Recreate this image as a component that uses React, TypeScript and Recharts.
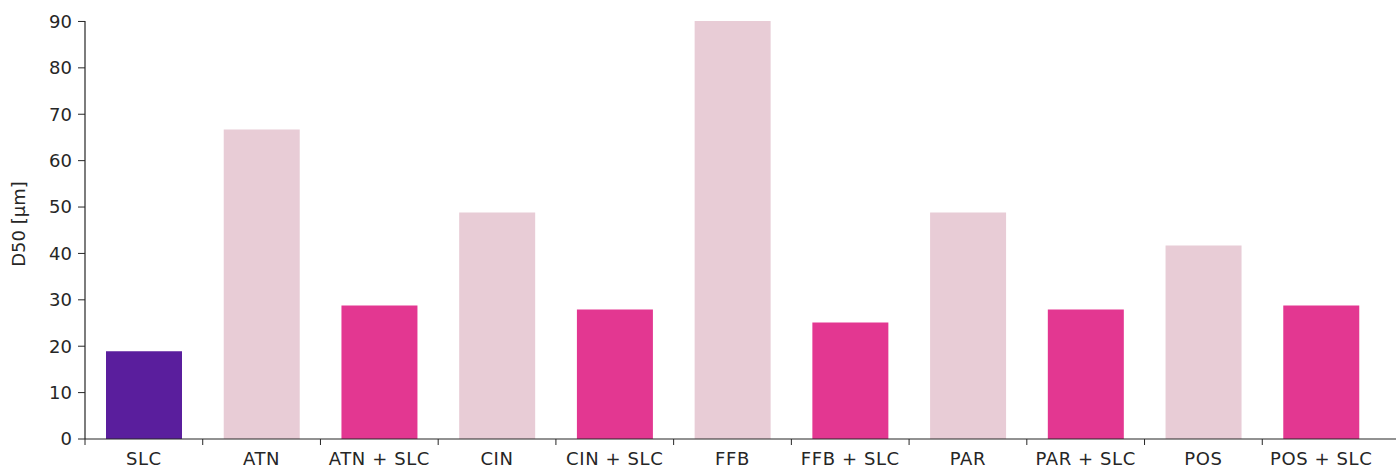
import { BarChart, Bar, XAxis, YAxis, Cell, Label } from "recharts";

const categories = [
  "SLC",
  "ATN",
  "ATN + SLC",
  "CIN",
  "CIN + SLC",
  "FFB",
  "FFB + SLC",
  "PAR",
  "PAR + SLC",
  "POS",
  "POS + SLC",
];
const d50Values = [18.9, 66.7, 28.8, 48.8, 27.9, 90.1, 25.1, 48.8, 27.9, 41.7, 28.8];
const yTicks = [0, 10, 20, 30, 40, 50, 60, 70, 80, 90];

const data = categories.map((name, i) => ({ name, d50: d50Values[i] }));

const FONT = "'DejaVu Sans', Verdana, sans-serif";
const INK = "#262626";
const CHART_W = 1396;
const CHART_H = 466;
const Y_AXIS_W = 85;
const X_PAD_RIGHT = 16;
const BAND = (CHART_W - Y_AXIS_W - X_PAD_RIGHT) / categories.length;

const colorFor = (name: string) => {
  if (name === "SLC") return "#5a1e9d";
  if (name.includes("+ SLC")) return "#e33791";
  return "#e8ccd6";
};

const XTick = (props: any) => {
  const { x, y, payload } = props;
  const left = x - BAND / 2;
  return (
    <g>
      <line x1={left} y1={y} x2={left} y2={y + 6} stroke={INK} strokeWidth={1} />
      <text
        x={x}
        y={y + 26}
        textAnchor="middle"
        fill={INK}
        fontSize={18}
        letterSpacing={0.6}
        fontFamily={FONT}
      >
        {payload.value}
      </text>
    </g>
  );
};

const YLabel = () => (
  <text
    x={18}
    y={224}
    transform="rotate(-90 18 224)"
    textAnchor="middle"
    dominantBaseline="central"
    fill={INK}
    fontSize={18}
    fontFamily={FONT}
  >
    D50 [µm]
  </text>
);

export default function App() {
  return (
    <div style={{ position: "absolute", left: 0, top: 0, background: "#fff" }}>
      <BarChart
        width={CHART_W}
        height={CHART_H}
        data={data}
        margin={{ top: 21, right: 0, bottom: 0, left: 0 }}
        barCategoryGap={0}
      >
        <XAxis
          dataKey="name"
          height={27}
          padding={{ left: 0, right: X_PAD_RIGHT }}
          tickLine={false}
          tickSize={0}
          tickMargin={0}
          interval={0}
          axisLine={{ stroke: INK, strokeWidth: 1.2 }}
          tick={<XTick />}
        />
        <YAxis
          width={Y_AXIS_W}
          domain={[0, 90]}
          ticks={yTicks}
          interval={0}
          tickSize={7}
          tickMargin={6}
          axisLine={{ stroke: INK, strokeWidth: 1.2 }}
          tickLine={{ stroke: INK }}
          tick={{ fill: INK, fontSize: 18, fontFamily: FONT }}
        >
          <Label content={<YLabel />} />
        </YAxis>
        <Bar dataKey="d50" barSize={76} isAnimationActive={false}>
          {data.map((d) => (
            <Cell key={d.name} fill={colorFor(d.name)} />
          ))}
        </Bar>
      </BarChart>
    </div>
  );
}
